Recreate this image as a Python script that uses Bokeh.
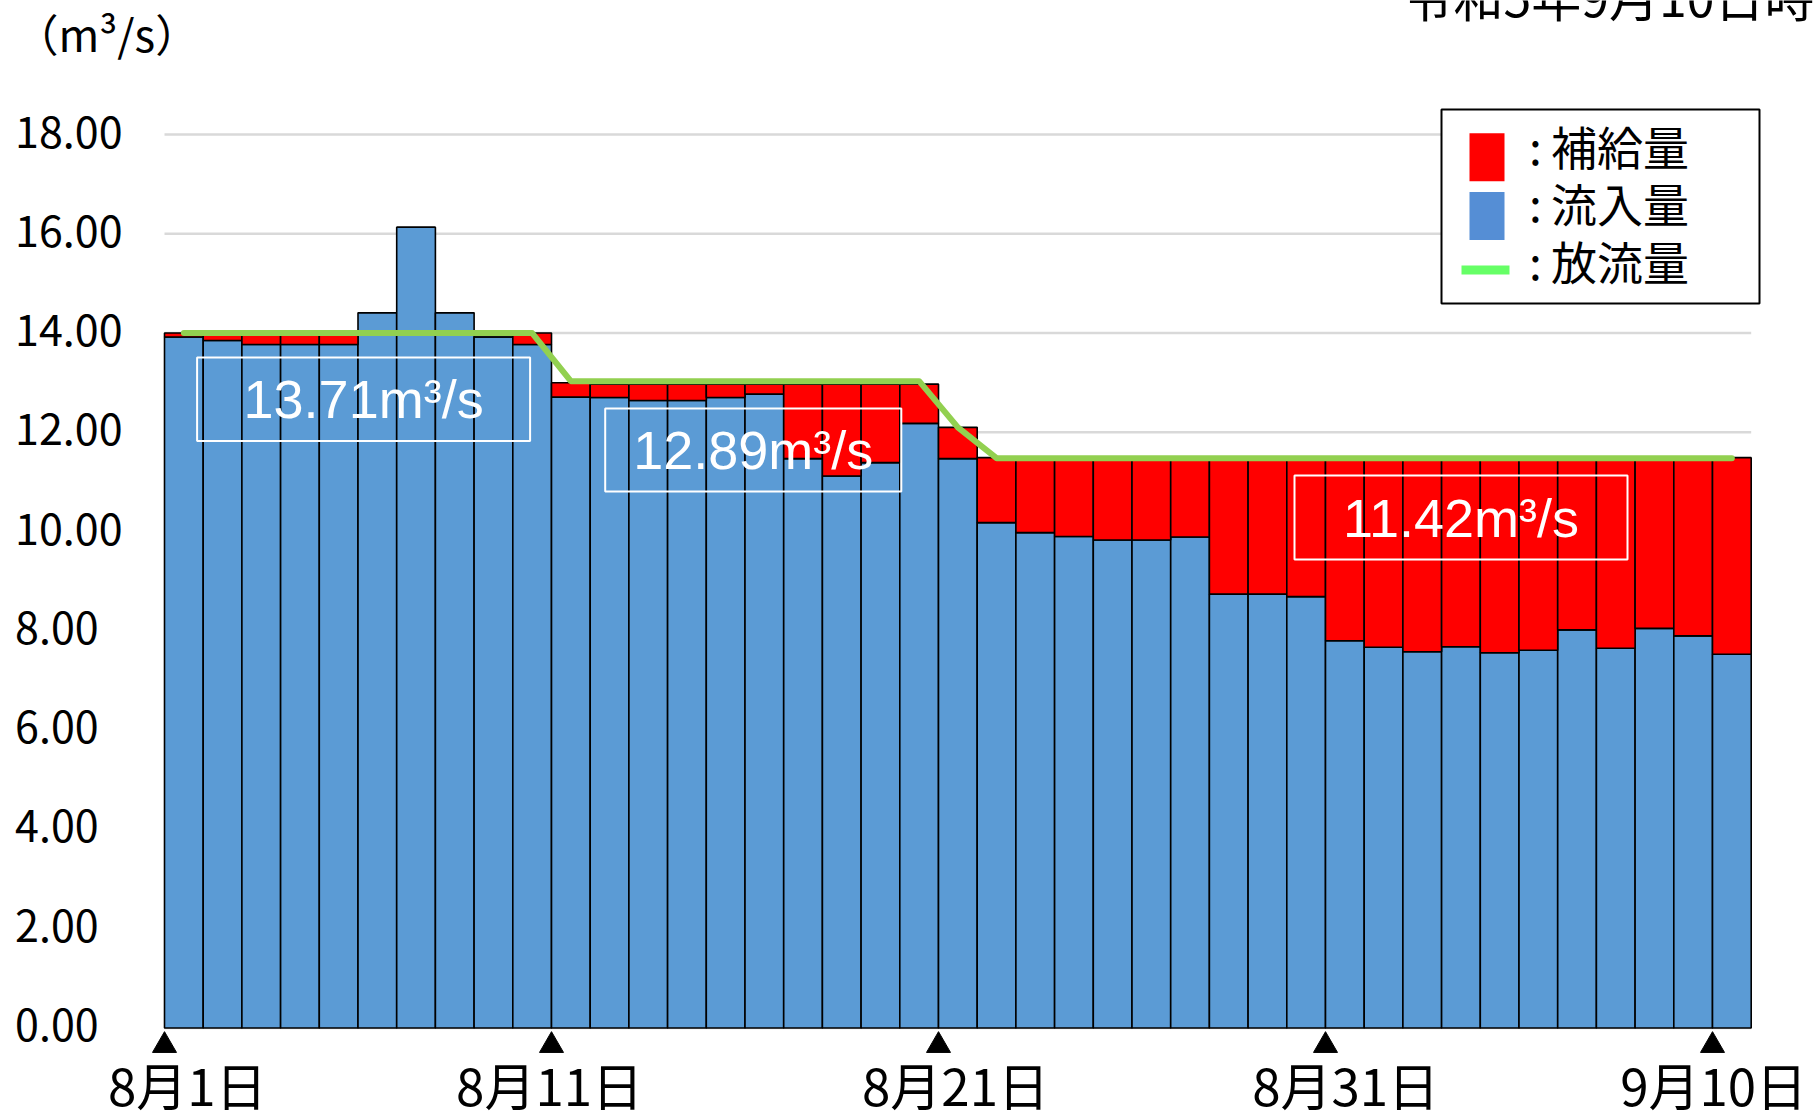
from bokeh.plotting import figure
from bokeh.models import Range1d, FixedTicker, NumeralTickFormatter, ColumnDataSource, LabelSet, Label
from bokeh.core.properties import value
from bokeh.embed import file_html
from bokeh.resources import INLINE

# ---------------- data ----------------
days = [f"8/{d}" for d in range(1, 32)] + [f"9/{d}" for d in range(1, 11)]
inflow = [13.92, 13.85, 13.77, 13.77, 13.77, 14.41, 16.13, 14.41, 13.92, 13.77,
          12.71, 12.70, 12.64, 12.64, 12.70, 12.77, 11.47, 11.12, 11.39, 12.18,
          11.47, 10.18, 9.98, 9.90, 9.83, 9.83, 9.89, 8.74, 8.74, 8.69,
          7.80, 7.67, 7.58, 7.68, 7.56, 7.61, 8.02, 7.65, 8.05, 7.90, 7.53]
supply = [0.08, 0.15, 0.23, 0.23, 0.23, 0.00, 0.00, 0.00, 0.00, 0.23,
          0.29, 0.27, 0.33, 0.33, 0.27, 0.20, 1.50, 1.85, 1.58, 0.79,
          0.63, 1.31, 1.49, 1.57, 1.64, 1.64, 1.58, 2.73, 2.73, 2.78,
          3.67, 3.80, 3.89, 3.79, 3.91, 3.86, 3.45, 3.82, 3.42, 3.57, 3.96]
release = [14.00, 14.00, 14.00, 14.00, 14.00, 14.00, 14.00, 14.00, 14.00, 14.00,
           13.03, 13.03, 13.03, 13.03, 13.03, 13.03, 13.03, 13.03, 13.03, 13.03,
           12.10, 11.48, 11.48, 11.48, 11.48, 11.48, 11.48, 11.48, 11.48, 11.48,
           11.48, 11.48, 11.48, 11.48, 11.48, 11.48, 11.48, 11.48, 11.48, 11.48, 11.48]
y_ticks = [0, 2, 4, 6, 8, 10, 12, 14, 16, 18]
tick_days = [0, 10, 20, 30, 40]
tick_labels = ["8月1日", "8月11日", "8月21日", "8月31日", "9月10日"]
period_labels = ["13.71m³/s", "12.89m³/s", "11.42m³/s"]
legend_labels = ["補給量", "流入量", "放流量"]
title_text = "令和5年9月10日時点"
unit_text = "（m³/s）"

# ---------------- layout helpers (pixel positions -> data) ----------------
W, H, FRAME_LEFT = 1813, 1111, 10
X0_PX, DAY_PX, Y0_PX, UNIT_PX = 164.0, 38.7, 1027.5, 49.64
def dx(sx):
    return (sx - X0_PX) / DAY_PX
def dy(sy):
    return (Y0_PX - sy) / UNIT_PX

JP = "Noto Sans CJK JP"
BLUE, RED, GREEN = "#5B9BD5", "#FF0000", "#92D050"
LABEL_LIFT = 0.12   # tick labels sit a little above their gridlines

p = figure(width=W, height=H,
           x_range=Range1d(dx(FRAME_LEFT), dx(W)), y_range=Range1d(dy(H), dy(0)),
           x_axis_location=None, y_axis_location=None,
           min_border_left=FRAME_LEFT, min_border_right=0, min_border_top=0, min_border_bottom=0,
           toolbar_location=None, output_backend="svg",
           background_fill_color="white", border_fill_color="white")
p.outline_line_color = None
p.xgrid.visible = False
p.ygrid.visible = False

from bokeh.models import LinearAxis
p.extra_y_ranges = {"ticks": Range1d(dy(H) - LABEL_LIFT, dy(0) - LABEL_LIFT)}
ax = LinearAxis(y_range_name="ticks")
ax.ticker = FixedTicker(ticks=y_ticks)
ax.formatter = NumeralTickFormatter(format="0.00")
ax.major_label_overrides = {t: f"{t:.2f}" + ("\u2007" if t < 10 else "") for t in y_ticks}
ax.axis_line_color = None
ax.major_tick_line_color = None
ax.minor_tick_line_color = None
ax.major_tick_out = 0
ax.major_tick_in = 0
ax.minor_tick_out = 0
ax.major_label_standoff = FRAME_LEFT - 122
ax.major_label_text_font = JP
ax.major_label_text_font_size = "43px"
ax.major_label_text_color = "black"
p.add_layout(ax, "left")

# gridlines over the bar span
p.segment(x0=0, x1=len(days), y0=y_ticks, y1=y_ticks, line_color="#D9D9D9", line_width=2.5, level="underlay")

src = ColumnDataSource(dict(x=[i + 0.5 for i in range(len(days))], day=days,
                            inflow=inflow, supply=supply, release=release))
p.vbar_stack(["inflow", "supply"], x="x", width=1.0, fill_color=[BLUE, RED],
             line_color="black", line_width=1.6, source=src)
p.line("x", "release", source=src, line_color=GREEN, line_width=6, line_cap="round", line_join="round")

# period boxes
boxes_l = [dx(196.6), dx(604.7), dx(1294)]
boxes_r = [dx(529.6), dx(900.8), dx(1627)]
boxes_t = [dy(357), dy(408), dy(475)]
boxes_b = [dy(440.5), dy(491), dy(559)]
p.quad(left=boxes_l, right=boxes_r, top=boxes_t, bottom=boxes_b,
       fill_color=None, line_color="white", line_width=2)
p.text(x=[(a + b) / 2 for a, b in zip(boxes_l, boxes_r)],
       y=[(a + b) / 2 for a, b in zip(boxes_t, boxes_b)],
       text=period_labels, text_color="white", text_font=value("Liberation Sans"),
       text_font_size="54px", text_align="center", text_baseline="middle")

# legend
p.quad(left=[dx(1441)], right=[dx(1759)], top=[dy(109)], bottom=[dy(303)],
       fill_color="white", line_color="black", line_width=2)
p.rect(x=[dx(1486.5)] * 2, y=[dy(156.7), dy(215.5)], width=35, height=48,
       width_units="screen", height_units="screen",
       fill_color=[RED, "#558ED5"], line_color=None)
p.segment(x0=[dx(1461)], x1=[dx(1509)], y0=[dy(269.5)], y1=[dy(269.5)],
          line_color="#66FF66", line_width=9)
p.text(x=[dx(1528.5)] * 3, y=[dy(144), dy(201), dy(259.5)],
       text=[":\u2009" + s for s in legend_labels], text_color="black",
       text_font=value(JP), text_font_size="46px", text_align="left", text_baseline="middle")

# date markers
p.scatter(x=tick_days, y=[dy(1045)] * len(tick_days), marker="triangle", size=24,
          fill_color="black", line_color="black")
label_offsets = [0.59, -0.05, 0.44, 0.52, 0.03]
lab_src = ColumnDataSource(dict(x=[d + o for d, o in zip(tick_days, label_offsets)],
                                y=[dy(1083)] * len(tick_days), text=tick_labels))
p.add_layout(LabelSet(x="x", y="y", text="text", source=lab_src, text_align="center",
                      text_baseline="middle", text_font=value(JP), text_font_size="51px",
                      text_color="black"))

# title (cropped at the top) and unit
p.text(x=[dx(1403)], y=[dy(-6)], text=[title_text], text_font=value(JP), text_font_size="50px",
       text_align="left", text_baseline="middle", text_color="black")
p.add_layout(Label(x=dx(14), y=dy(32), text=unit_text, text_font=JP, text_font_size="44px",
                   text_align="left", text_baseline="middle", text_color="black"))

open("out.html", "w", encoding="utf-8").write(file_html(p, INLINE))
